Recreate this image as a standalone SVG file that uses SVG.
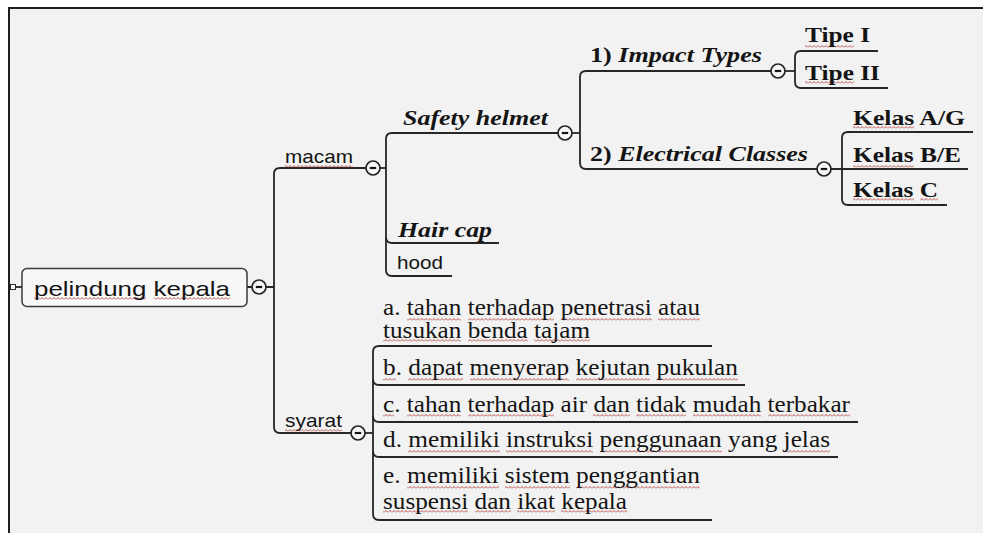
<svg xmlns="http://www.w3.org/2000/svg" width="983" height="533" viewBox="0 0 983 533">
  <style>
    .sans { font-family: "Liberation Sans", Arial, sans-serif; fill: #141414; }
    .serif { font-family: "Liberation Serif", "Times New Roman", serif; fill: #141414; }
    .bi { font-weight: bold; font-style: italic; }
    .b { font-weight: bold; }
    .i { font-style: italic; }
    .sq { fill: url(#squiggle); }
    .wire { fill: none; stroke: #262626; stroke-width: 1.8; stroke-linejoin: round; }
    .toggle circle { fill: #f8f8f8; stroke: #262626; stroke-width: 1.7; }
    .toggle line { stroke: #141414; stroke-width: 2.2; }
  </style>
  <defs>
    <!-- spell-check wave, tiled under flagged words -->
    <pattern id="squiggle" patternUnits="userSpaceOnUse" x="0" y="0" width="4" height="3">
      <path d="M0 2.5 L2 0.5 L4 2.5" fill="none" stroke="#b5413a" stroke-width="0.9"/>
    </pattern>
    <g id="minus" class="toggle">
      <circle cx="0" cy="0" r="7"/>
      <line x1="-3.2" y1="0" x2="3.2" y2="0"/>
    </g>
  </defs>

  <!-- canvas -->
  <rect x="0" y="0" width="983" height="533" fill="#ffffff"/>
  <rect x="9" y="8" width="980" height="530" fill="#f2f2f2" stroke="#1e1e1e" stroke-width="2"/>

  <!-- connectors -->
  <g id="connectors">
    <!-- root -->
    <path class="wire" d="M12 287 H22"/>
    <rect x="10.5" y="284.5" width="5" height="5" fill="#f8f8f8" stroke="#2b2b2b" stroke-width="1"/>
    <path class="wire" d="M247 287 H252 M266 287 H274"/>
    <!-- trunk: macam / syarat -->
    <path class="wire" d="M366 168 H280 Q274 168 274 174 V427 Q274 433 280 433 H351"/>
    <!-- macam branch -->
    <path class="wire" d="M380 168 H386"/>
    <path class="wire" d="M558 133 H392 Q386 133 386 139 V270 Q386 276 392 276 H452"/>
    <path class="wire" d="M386 237 Q386 243 392 243 H499"/>
    <!-- safety helmet branch -->
    <path class="wire" d="M572 133 H580"/>
    <path class="wire" d="M771 71 H586 Q580 71 580 77 V163 Q580 169 586 169 H817"/>
    <!-- impact types -->
    <path class="wire" d="M785 71 H795"/>
    <path class="wire" d="M878 51 H801 Q795 51 795 57 V82 Q795 88 801 88 H888"/>
    <!-- electrical classes -->
    <path class="wire" d="M831 169 H968"/>
    <path class="wire" d="M973 132 H848 Q842 132 842 138 V199 Q842 205 848 205 H947"/>
    <!-- syarat -->
    <path class="wire" d="M365 433 H373"/>
    <path class="wire" d="M712 346 H379 Q373 346 373 352 V514 Q373 520 379 520 H712"/>
    <path class="wire" d="M373 379 Q373 385 379 385 H745"/>
    <path class="wire" d="M373 416 Q373 422 379 422 H858"/>
    <path class="wire" d="M373 451 Q373 457 379 457 H838"/>
  </g>

  <!-- root node -->
  <g id="node-pelindung-kepala">
    <rect x="22" y="268.5" width="225" height="38" rx="5" fill="#f8f8f8" stroke="#3a3a3a" stroke-width="1.5"/>
    <rect class="sq" x="34" y="297" width="112" height="3"/>
    <rect class="sq" x="154" y="297" width="76" height="3"/>
    <text class="sans" x="34" y="296" font-size="21" textLength="196" lengthAdjust="spacingAndGlyphs"><tspan>pelindung</tspan> <tspan>kepala</tspan></text>
    <use href="#minus" x="259" y="287"/>
  </g>

  <g id="node-macam">
    <rect class="sq" x="285" y="165" width="68" height="3"/>
    <text class="sans" x="285" y="163" font-size="19" textLength="68" lengthAdjust="spacingAndGlyphs"><tspan>macam</tspan></text>
    <use href="#minus" x="373" y="168"/>
  </g>

  <g id="node-syarat">
    <rect class="sq" x="285" y="429" width="57" height="3"/>
    <text class="sans" x="285" y="427" font-size="19" textLength="57" lengthAdjust="spacingAndGlyphs"><tspan>syarat</tspan></text>
    <use href="#minus" x="358" y="433"/>
  </g>

  <g id="node-safety-helmet">
    <text class="serif bi" x="403" y="125" font-size="22" textLength="145" lengthAdjust="spacingAndGlyphs"><tspan>Safety</tspan> <tspan>helmet</tspan></text>
    <use href="#minus" x="565" y="133"/>
  </g>

  <g id="node-hair-cap">
    <text class="serif bi" x="398" y="237" font-size="22" textLength="94" lengthAdjust="spacingAndGlyphs"><tspan>Hair</tspan> <tspan>cap</tspan></text>
  </g>

  <g id="node-hood">
    <text class="sans" x="397" y="269" font-size="19" textLength="46" lengthAdjust="spacingAndGlyphs"><tspan>hood</tspan></text>
  </g>

  <g id="node-impact-types">
    <text class="serif b" x="590" y="62" font-size="22" textLength="172" lengthAdjust="spacingAndGlyphs"><tspan>1)</tspan> <tspan class="i">Impact</tspan> <tspan class="i">Types</tspan></text>
    <use href="#minus" x="778" y="71"/>
  </g>

  <g id="node-electrical-classes">
    <text class="serif b" x="590" y="161" font-size="22" textLength="218" lengthAdjust="spacingAndGlyphs"><tspan>2)</tspan> <tspan class="i">Electrical</tspan> <tspan class="i">Classes</tspan></text>
    <use href="#minus" x="824" y="169"/>
  </g>

  <g id="node-tipe-1">
    <rect class="sq" x="805" y="45" width="49" height="3"/>
    <text class="serif b" x="805" y="42" font-size="22" textLength="65" lengthAdjust="spacingAndGlyphs"><tspan>Tipe</tspan> <tspan>I</tspan></text>
  </g>
  <g id="node-tipe-2">
    <rect class="sq" x="805" y="81" width="49" height="3"/>
    <text class="serif b" x="805" y="80" font-size="22" textLength="75" lengthAdjust="spacingAndGlyphs"><tspan>Tipe</tspan> <tspan>II</tspan></text>
  </g>

  <g id="node-kelas-ag">
    <rect class="sq" x="853" y="126" width="61" height="3"/>
    <text class="serif b" x="853" y="125" font-size="22" textLength="112" lengthAdjust="spacingAndGlyphs"><tspan>Kelas</tspan> <tspan>A/G</tspan></text>
  </g>
  <g id="node-kelas-be">
    <rect class="sq" x="853" y="165" width="61" height="3"/>
    <text class="serif b" x="853" y="162" font-size="22" textLength="108" lengthAdjust="spacingAndGlyphs"><tspan>Kelas</tspan> <tspan>B/E</tspan></text>
  </g>
  <g id="node-kelas-c">
    <rect class="sq" x="853" y="198" width="61" height="3"/>
    <rect class="sq" x="920" y="198" width="18" height="3"/>
    <text class="serif b" x="853" y="197" font-size="22" textLength="85" lengthAdjust="spacingAndGlyphs"><tspan>Kelas</tspan> <tspan>C</tspan></text>
  </g>

  <g id="node-syarat-a">
    <rect class="sq" x="407" y="318" width="54" height="3"/>
    <rect class="sq" x="468" y="318" width="86" height="3"/>
    <rect class="sq" x="561" y="318" width="91" height="3"/>
    <rect class="sq" x="658" y="318" width="42" height="3"/>
    <rect class="sq" x="383" y="339" width="78" height="3"/>
    <rect class="sq" x="468" y="339" width="60" height="3"/>
    <rect class="sq" x="534" y="339" width="56" height="3"/>
    <text class="serif" x="383" y="315" font-size="23" textLength="317" lengthAdjust="spacingAndGlyphs"><tspan>a.</tspan> <tspan>tahan</tspan> <tspan>terhadap</tspan> <tspan>penetrasi</tspan> <tspan>atau</tspan></text>
    <text class="serif" x="383" y="338" font-size="23" textLength="207" lengthAdjust="spacingAndGlyphs"><tspan>tusukan</tspan> <tspan>benda</tspan> <tspan>tajam</tspan></text>
  </g>
  <g id="node-syarat-b">
    <rect class="sq" x="383" y="378" width="13" height="3"/>
    <rect class="sq" x="408" y="378" width="55" height="3"/>
    <rect class="sq" x="470" y="378" width="99" height="3"/>
    <rect class="sq" x="576" y="378" width="74" height="3"/>
    <rect class="sq" x="656" y="378" width="82" height="3"/>
    <text class="serif" x="383" y="375" font-size="23" textLength="355" lengthAdjust="spacingAndGlyphs"><tspan>b.</tspan> <tspan>dapat</tspan> <tspan>menyerap</tspan> <tspan>kejutan</tspan> <tspan>pukulan</tspan></text>
  </g>
  <g id="node-syarat-c">
    <rect class="sq" x="383" y="414" width="11" height="3"/>
    <rect class="sq" x="407" y="414" width="54" height="3"/>
    <rect class="sq" x="468" y="414" width="86" height="3"/>
    <rect class="sq" x="593" y="414" width="37" height="3"/>
    <rect class="sq" x="636" y="414" width="50" height="3"/>
    <rect class="sq" x="693" y="414" width="68" height="3"/>
    <rect class="sq" x="768" y="414" width="82" height="3"/>
    <text class="serif" x="383" y="412" font-size="23" textLength="467" lengthAdjust="spacingAndGlyphs"><tspan>c.</tspan> <tspan>tahan</tspan> <tspan>terhadap</tspan> <tspan>air</tspan> <tspan>dan</tspan> <tspan>tidak</tspan> <tspan>mudah</tspan> <tspan>terbakar</tspan></text>
  </g>
  <g id="node-syarat-d">
    <rect class="sq" x="408" y="450" width="92" height="3"/>
    <rect class="sq" x="506" y="450" width="87" height="3"/>
    <rect class="sq" x="600" y="450" width="122" height="3"/>
    <rect class="sq" x="784" y="450" width="46" height="3"/>
    <text class="serif" x="383" y="447" font-size="23" textLength="447" lengthAdjust="spacingAndGlyphs"><tspan>d.</tspan> <tspan>memiliki</tspan> <tspan>instruksi</tspan> <tspan>penggunaan</tspan> <tspan>yang</tspan> <tspan>jelas</tspan></text>
  </g>
  <g id="node-syarat-e">
    <rect class="sq" x="407" y="486" width="92" height="3"/>
    <rect class="sq" x="505" y="486" width="65" height="3"/>
    <rect class="sq" x="576" y="486" width="124" height="3"/>
    <rect class="sq" x="383" y="510" width="85" height="3"/>
    <rect class="sq" x="475" y="510" width="36" height="3"/>
    <rect class="sq" x="517" y="510" width="38" height="3"/>
    <rect class="sq" x="561" y="510" width="66" height="3"/>
    <text class="serif" x="383" y="483" font-size="23" textLength="317" lengthAdjust="spacingAndGlyphs"><tspan>e.</tspan> <tspan>memiliki</tspan> <tspan>sistem</tspan> <tspan>penggantian</tspan></text>
    <text class="serif" x="383" y="509" font-size="23" textLength="244" lengthAdjust="spacingAndGlyphs"><tspan>suspensi</tspan> <tspan>dan</tspan> <tspan>ikat</tspan> <tspan>kepala</tspan></text>
  </g>
</svg>
